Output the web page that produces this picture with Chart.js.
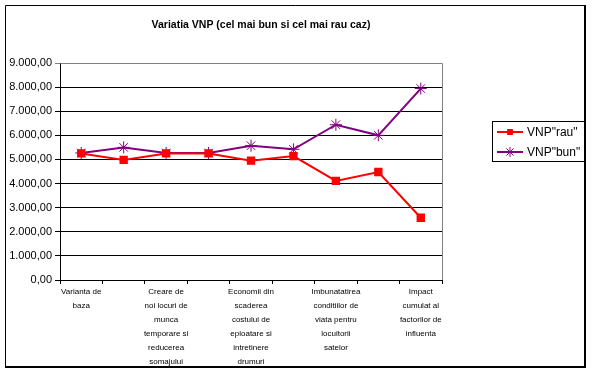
<!DOCTYPE html>
<html><head><meta charset="utf-8">
<script src="https://cdn.jsdelivr.net/npm/chart.js@4"></script>
<style>html,body{margin:0;padding:0;background:#fff}#wrap{width:592px;height:373px;position:relative}</style>
</head><body><div id="wrap"><canvas id="c" width="592" height="373"></canvas></div>
<script>
const chartTitle = "Variatia VNP (cel mai bun si cel mai rau caz)";
const categories = [
  ["Varianta de", "baza"],
  "",
  ["Creare de", "noi locuri de", "munca", "temporare si", "reducerea", "somajului"],
  "",
  ["Economii din", "scaderea", "costului de", "eploatare si", "intretinere", "drumuri"],
  "",
  ["Imbunatatirea", "conditiilor de", "viata pentru", "locuitorii", "satelor"],
  "",
  ["Impact", "cumulat al", "factorilor de", "influenta"]
];
const seriesNames = ['VNP"rau"', 'VNP"bun"'];
const vnpRau = [5250, 4980, 5250, 5250, 4950, 5140, 4110, 4480, 2580];
const vnpBun = [5270, 5500, 5270, 5270, 5570, 5420, 6440, 6000, 7940];
const yMin = 0, yMax = 9000, yStep = 1000;

function fmt(v) {
  const s = Math.round(v).toString().replace(/\B(?=(\d{3})+(?!\d))/g, ".");
  return s + ",00";
}

const FONT = "Arial, 'Liberation Sans', sans-serif";

const framePlugin = {
  id: 'frame',
  beforeDraw(chart) {
    const ctx = chart.ctx;
    ctx.save();
    ctx.fillStyle = '#fff';
    ctx.fillRect(0, 0, chart.width, chart.height);
    ctx.strokeStyle = '#000';
    ctx.lineWidth = 1;
    ctx.beginPath();
    ctx.moveTo(5.5, 367); ctx.lineTo(5.5, 5.5); ctx.lineTo(586, 5.5);
    ctx.stroke();
    ctx.lineWidth = 2;
    ctx.beginPath();
    ctx.moveTo(585, 5); ctx.lineTo(585, 367); ctx.lineTo(5, 367);
    ctx.stroke();
    ctx.fillStyle = '#000';
    ctx.font = "bold 10.5px " + FONT;
    ctx.textAlign = 'center';
    ctx.textBaseline = 'middle';
    ctx.fillText(chartTitle, 261, 25);
    ctx.restore();
  },
  beforeDatasetsDraw(chart) {
    const a = chart.chartArea, ctx = chart.ctx;
    ctx.save();
    ctx.strokeStyle = '#808080';
    ctx.lineWidth = 1;
    ctx.beginPath();
    ctx.moveTo(Math.round(a.left) + 0.5, Math.round(a.top) + 0.5);
    ctx.lineTo(Math.round(a.right) + 0.5, Math.round(a.top) + 0.5);
    ctx.lineTo(Math.round(a.right) + 0.5, Math.round(a.bottom));
    ctx.stroke();
    ctx.restore();
  },
  afterDraw(chart) {
    const ctx = chart.ctx;
    ctx.save();
    ctx.strokeStyle = '#000';
    ctx.lineWidth = 1;
    ctx.strokeRect(492.5, 121.5, 93, 40);
    ctx.font = "12px " + FONT;
    ctx.textAlign = 'left';
    ctx.textBaseline = 'middle';
    chart.data.datasets.forEach((ds, i) => {
      const y = 132 + i * 20;
      ctx.strokeStyle = ds.borderColor;
      ctx.fillStyle = ds.borderColor;
      ctx.lineWidth = 2;
      ctx.beginPath();
      ctx.moveTo(497, y); ctx.lineTo(523, y);
      ctx.stroke();
      ctx.lineWidth = 1;
      Chart.helpers.drawPoint(ctx, {
        pointStyle: ds.pointStyle, radius: ds.pointStyle === 'rect' ? 3.5 : 5, borderWidth: 1, rotation: 0
      }, 510, y);
      ctx.fillStyle = '#000';
      ctx.fillText(ds.label, 527, y + 1);
    });
    ctx.restore();
  }
};

new Chart(document.getElementById('c'), {
  type: 'line',
  data: {
    labels: categories,
    datasets: [
      {
        label: seriesNames[0], data: vnpRau,
        borderColor: '#ff0000', backgroundColor: '#ff0000',
        borderWidth: 2, pointStyle: 'rect', pointRadius: 4.5,
        pointBorderColor: '#ff0000', pointBackgroundColor: '#ff0000',
        tension: 0
      },
      {
        label: seriesNames[1], data: vnpBun,
        borderColor: '#800080', backgroundColor: '#800080',
        borderWidth: 2, pointStyle: 'star', pointRadius: 6, pointBorderWidth: 1,
        pointBorderColor: '#800080', pointBackgroundColor: '#800080',
        tension: 0
      }
    ]
  },
  options: {
    responsive: false,
    animation: false,
    devicePixelRatio: 1,
    layout: { padding: { left: 5, top: 63, right: 150, bottom: 6 } },
    plugins: { legend: { display: false }, title: { display: false }, tooltip: { enabled: false } },
    scales: {
      x: {
        offset: true,
        afterFit(s) { s.height = 373 - 6 - 63 - 217; },
        grid: { offset: true, drawOnChartArea: false, tickLength: 4, color: '#000' },
        border: { color: '#000' },
        ticks: {
          autoSkip: false, maxRotation: 0, minRotation: 0,
          color: '#000', padding: 1,
          font: { family: FONT, size: 8, lineHeight: 1.75 }
        }
      },
      y: {
        min: yMin, max: yMax,
        afterFit(s) { s.width = 55; },
        grid: {
          tickLength: 5,
          color: (c) => (c.tick && c.tick.value === yMax) ? '#808080' : '#000'
        },
        border: { color: '#000' },
        ticks: {
          stepSize: yStep, color: '#000', padding: 3,
          font: { family: FONT, size: 11 },
          callback: (v) => fmt(v)
        }
      }
    }
  },
  plugins: [framePlugin]
});
</script></body></html>
